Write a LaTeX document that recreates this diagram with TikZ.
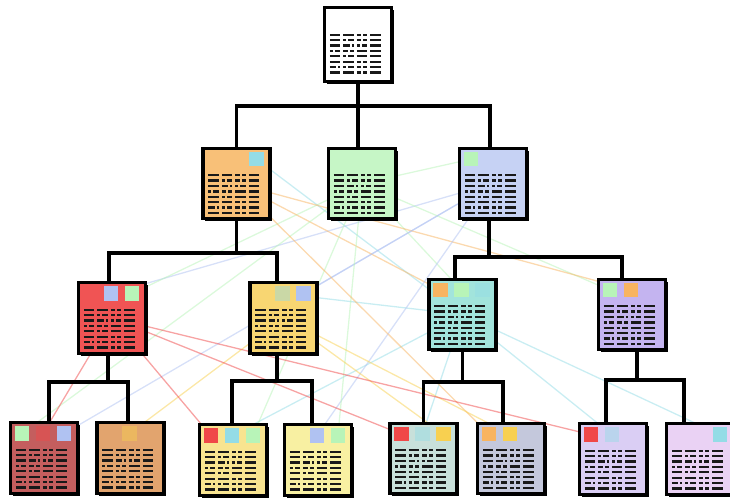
\documentclass[tikz,border=0pt]{standalone}
\usetikzlibrary{shadows,backgrounds}
\definecolor{cA}{HTML}{F8C078}
\definecolor{cB}{HTML}{C6F6C6}
\definecolor{cC}{HTML}{C6D2F4}
\definecolor{cD}{HTML}{F05454}
\definecolor{cE}{HTML}{F8D672}
\definecolor{cF}{HTML}{A2E4DC}
\definecolor{cG}{HTML}{C4B4F0}
\definecolor{cH}{HTML}{C45E5E}
\definecolor{cI}{HTML}{E2A46E}
\definecolor{cJ}{HTML}{F8E490}
\definecolor{cK}{HTML}{F8F0A2}
\definecolor{cL}{HTML}{C8E0DA}
\definecolor{cM}{HTML}{C4C8DC}
\definecolor{cN}{HTML}{DACEF4}
\definecolor{cO}{HTML}{EAD2F4}
\definecolor{bT}{HTML}{94DCE6}
\definecolor{bG}{HTML}{B8F4B8}
\definecolor{bB}{HTML}{B0C2F2}
\definecolor{bR}{HTML}{F04848}
\definecolor{bO}{HTML}{F8B460}
\definecolor{bY}{HTML}{F8D050}
\newcommand\dlL[2]{\draw[dl] (#1,#2) -- ++(10.5,0);}
\newcommand\dlS[2]{\draw[dl] (#1,#2) -- ++(4.5,0) (#1+6.5,#2) -- ++(4,0);}
\newcommand\dlT[2]{\draw[dl] (#1,#2) -- ++(3,0) (#1+5,#2) -- ++(5.5,0);}
\newcommand\dlU[2]{\draw[dl] (#1,#2) -- ++(6.5,0) (#1+8.5,#2) -- ++(2,0);}
\newcommand\doclines[1]{%
  \begin{scope}[shift={(#1.north west)}]
    \foreach \a/\b/\c/\d [count=\r from 0] in {L/L/S/L, L/T/S/L, L/U/T/L, T/S/L/L, L/T/L/L, L/L/S/L, U/T/S/L, L/L/S/L}{
      \pgfmathsetmacro\yy{28.5+\r*5.4}
      \csname dl\a\endcsname{7}{\yy}
      \csname dl\b\endcsname{20.5}{\yy}
      \csname dl\c\endcsname{34}{\yy}
      \csname dl\d\endcsname{47.5}{\yy}
    }
  \end{scope}}
\newcommand\bdg[4][]{%
  \node[badge=#4,#1] (#2#3) at ([shift={({13+(#3-1)*21},12.5)}]#2.north west) {};}
\begin{document}
\begin{tikzpicture}[x=1pt,y=-1pt,
  docbox/.style={draw=black, line width=3.2pt, minimum width=67pt,
    minimum height=70.5pt, inner sep=0pt, fill=#1,
    drop shadow={shadow xshift=2.4pt, shadow yshift=-2.4pt, fill=black, opacity=1}},
  badge/.style={fill=#1, minimum size=14.5pt, inner sep=0pt},
  faint/.style={fill opacity=0.45},
  tree/.style={draw=black, line width=3.4pt},
  link/.style={draw=#1, line width=1.3pt, opacity=0.5},
  dl/.style={line width=2.3pt, draw=black!90},
]
\path[use as bounding box] (0,0) rectangle (730,501);
\clip (0,0) rectangle (730,501);
% nodes
\node[docbox=white, minimum height=73.5pt] (R) at (358,44.5) {};
\node[docbox=cA] (A) at (236.5,183.5) {};
\node[docbox=cB] (B) at (362,183.5) {};
\node[docbox=cC] (C) at (493,183.5) {};
\node[docbox=cD] (D) at (112,318) {};
\node[docbox=cE] (E) at (283.5,318) {};
\node[docbox=cF] (F) at (462.5,314.5) {};
\node[docbox=cG] (G) at (632,314.5) {};
\node[docbox=cH] (H) at (44,458) {};
\node[docbox=cI] (I) at (130.5,458) {};
\node[docbox=cJ] (J) at (233,460) {};
\node[docbox=cK] (K) at (318,460) {};
\node[docbox=cL] (L) at (423.5,458.5) {};
\node[docbox=cM] (M) at (511,458.5) {};
\node[docbox=cN] (N) at (613,459) {};
\node[docbox=cO] (O) at (700,459) {};
\foreach \n in {R,A,B,C,D,E,F,G,H,I,J,K,L,M,N,O}{\doclines{\n}}
% badges
\bdg{A}{3}{bT}
\bdg{C}{1}{bG}
\bdg{D}{2}{bB} \bdg{D}{3}{bG}
\bdg[faint]{E}{2}{bT} \bdg{E}{3}{bB}
\bdg{F}{1}{bO} \bdg{F}{2}{bG} \bdg[faint]{F}{3}{bT}
\bdg{G}{1}{bG} \bdg{G}{2}{bO}
\bdg{H}{1}{bG} \bdg[faint]{H}{2}{bR} \bdg{H}{3}{bB}
\bdg[faint]{I}{2}{bY}
\bdg{J}{1}{bR} \bdg{J}{2}{bT} \bdg{J}{3}{bG}
\bdg{K}{2}{bB} \bdg{K}{3}{bG}
\bdg{L}{1}{bR} \bdg[faint]{L}{2}{bT} \bdg{L}{3}{bY}
\bdg{M}{1}{bO} \bdg{M}{2}{bY}
\bdg{N}{1}{bR} \bdg[faint]{N}{2}{bT}
\bdg{O}{3}{bT}
% junction levels
\coordinate (yR) at (0,106);
\coordinate (yA) at (0,253);
\coordinate (yC) at (0,257);
\coordinate (yD) at (0,382);
\coordinate (yE) at (0,381);
\coordinate (yF) at (0,382);
\coordinate (yG) at (0,380);
\begin{scope}[on background layer]
  % cross links
  \draw[link=bT] (A3) -- (F);
  \draw[link=bG] (C1) -- (B);
  \draw[link=bB] (D2) -- (C);
  \draw[link=bG] (D3) -- (B);
  \draw[link=bT] (E2) -- (F);
  \draw[link=bB] (E3) -- (C);
  \draw[link=bO] (F1) -- (A);
  \draw[link=bG] (F2) -- (B);
  \draw[link=bG] (G1) -- (B);
  \draw[link=bO] (G2) -- (A);
  \draw[link=bG] (H1) -- (B);
  \draw[link=bR] (H2) -- (D);
  \draw[link=bB] (H3) -- (C);
  \draw[link=bY] (I2) -- (E);
  \draw[link=bR] (J1) -- (D);
  \draw[link=bT] (J2) -- (F);
  \draw[link=bG] (J3) -- (B);
  \draw[link=bB] (K2) -- (C);
  \draw[link=bG] (K3) -- (B);
  \draw[link=bR] (L1) -- (D);
  \draw[link=bT] (L2) -- (F);
  \draw[link=bY] (L3) -- (E);
  \draw[link=bO] (M1) -- (A);
  \draw[link=bY] (M2) -- (E);
  \draw[link=bR] (N1) -- (D);
  \draw[link=bT] (N2) -- (F);
  \draw[link=bT] (O3) -- (F);
  % tree
  \draw[tree] (R.south) -- (R.south |- yR);
  \draw[tree] (A.north) |- ([xshift=-3pt]C.north |- yR) -- ([xshift=-3pt]C.north);
  \draw[tree] ([xshift=-4pt]B.north) -- ([xshift=-4pt]B.north |- yR);
  \draw[tree] (A.south) -- (A.south |- yA);
  \draw[tree] ([xshift=-3pt]D.north) |- ([xshift=-6.5pt]E.north |- yA) -- ([xshift=-6.5pt]E.north);
  \draw[tree] ([xshift=-4pt]C.south) -- ([xshift=-4pt]C.south |- yC);
  \draw[tree] ([xshift=-7.5pt]F.north) |- ([xshift=-10pt]G.north |- yC) -- ([xshift=-10pt]G.north);
  \draw[tree] ([xshift=-4pt]D.south) -- ([xshift=-4pt]D.south |- yD);
  \draw[tree] ([xshift=5pt]H.north) |- ([xshift=-2.5pt]I.north |- yD) -- ([xshift=-2.5pt]I.north);
  \draw[tree] ([xshift=-6.5pt]E.south) -- ([xshift=-6.5pt]E.south |- yE);
  \draw[tree] ([xshift=-1pt]J.north) |- ([xshift=-6pt]K.north |- yE) -- ([xshift=-6pt]K.north);
  \draw[tree] (F.south) -- (F.south |- yF);
  \draw[tree] (L.north) |- ([xshift=-8pt]M.north |- yF) -- ([xshift=-8pt]M.north);
  \draw[tree] ([xshift=5pt]G.south) -- ([xshift=5pt]G.south |- yG);
  \draw[tree] ([xshift=-7pt]N.north) |- ([xshift=-16pt]O.north |- yG) -- ([xshift=-16pt]O.north);
\end{scope}
\end{tikzpicture}
\end{document}
